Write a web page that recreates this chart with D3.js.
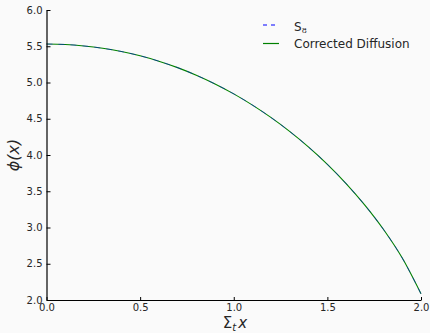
<!DOCTYPE html>
<html><head><meta charset="utf-8">
<script src="https://cdn.jsdelivr.net/npm/d3@7"></script>
<style>
html,body{margin:0;padding:0;background:#fafafa;}
svg{display:block;}
text{font-family:"DejaVu Sans",sans-serif;}
</style></head><body>
<svg id="c" width="430" height="333"></svg>
<script>
const xs = [0,0.1,0.2,0.3,0.4,0.5,0.6,0.7,0.8,0.9,1.0,1.1,1.2,1.3,1.4,1.5,1.6,1.7,1.8,1.9,2.0];
const s8 = [5.530,5.524,5.504,5.472,5.427,5.368,5.294,5.205,5.100,4.980,4.843,4.688,4.515,4.322,4.108,3.871,3.606,3.309,2.972,2.578,2.085];
const diffusion = [5.530,5.524,5.504,5.472,5.427,5.368,5.294,5.205,5.100,4.980,4.843,4.688,4.515,4.322,4.108,3.871,3.606,3.309,2.972,2.578,2.085];
const xTicks = [0,0.5,1.0,1.5,2.0];
const yTicks = [2.0,2.5,3.0,3.5,4.0,4.5,5.0,5.5,6.0];
const seriesNames = ["S8","Corrected Diffusion"];

const svg = d3.select("#c");
const L=46.5, R=421, T=10, B=300;
const x = d3.scaleLinear().domain([0,2]).range([L,R]);
const y = d3.scaleLinear().domain([2,6]).range([B,T]);

const line = d3.line().x((d,i)=>x(xs[i])).y(d=>y(d)).curve(d3.curveMonotoneX);

svg.append("path").attr("d",line(diffusion)).attr("fill","none").attr("stroke","#008000").attr("stroke-width",1.1);
svg.append("path").attr("d",line(s8)).attr("fill","none").attr("stroke","#0000ff").attr("stroke-width",1).attr("stroke-dasharray","6,6").attr("opacity",0.45);

// axes
const yAx = svg.append("g").attr("transform",`translate(${L},0)`)
  .call(d3.axisLeft(y).tickValues(yTicks).tickFormat(d3.format(".1f")).tickSizeInner(-4).tickSizeOuter(0).tickPadding(4));
const xAx = svg.append("g").attr("transform",`translate(0,${B})`)
  .call(d3.axisBottom(x).tickValues(xTicks).tickFormat(d3.format(".1f")).tickSizeInner(-3).tickSizeOuter(0).tickPadding(4));
[yAx,xAx].forEach(g=>{
  g.selectAll("text").attr("font-size",10).attr("fill","#262626").attr("font-family","DejaVu Sans");
  g.selectAll("line").attr("stroke","#000");
  g.select(".domain").attr("stroke","#000");
});
yAx.select(".domain").attr("stroke-width",1.2);

// labels
svg.append("text").attr("transform","translate(19,155) rotate(-90)").attr("text-anchor","middle")
  .attr("font-size",16).attr("font-family","DejaVu Serif").attr("font-style","italic").attr("fill","#262626").text("ϕ(x)");
const xl = svg.append("text").attr("x",235).attr("y",328).attr("text-anchor","middle")
  .attr("font-size",15).attr("font-family","DejaVu Serif").attr("fill","#262626");
xl.append("tspan").text("Σ");
xl.append("tspan").attr("font-size",10).attr("font-style","italic").attr("dy",3).text("t");
xl.append("tspan").attr("font-style","italic").attr("dy",-3).attr("dx",2).text("x");

// legend
const lg = svg.append("g");
lg.append("line").attr("x1",263).attr("x2",279).attr("y1",25).attr("y2",25).attr("stroke","#0000ff").attr("stroke-width",1.2).attr("stroke-dasharray","4,4");
const t1 = lg.append("text").attr("x",294).attr("y",30.5).attr("font-size",12).attr("fill","#262626");
t1.append("tspan").text("S");
t1.append("tspan").attr("font-size",8).attr("font-family","DejaVu Serif").attr("dy",2.5).text("8");
lg.append("line").attr("x1",263).attr("x2",279).attr("y1",43.5).attr("y2",43.5).attr("stroke","#008000").attr("stroke-width",1.2);
lg.append("text").attr("x",294).attr("y",47.5).attr("font-size",12).attr("fill","#262626").text(seriesNames[1]);
</script>
</body></html>
